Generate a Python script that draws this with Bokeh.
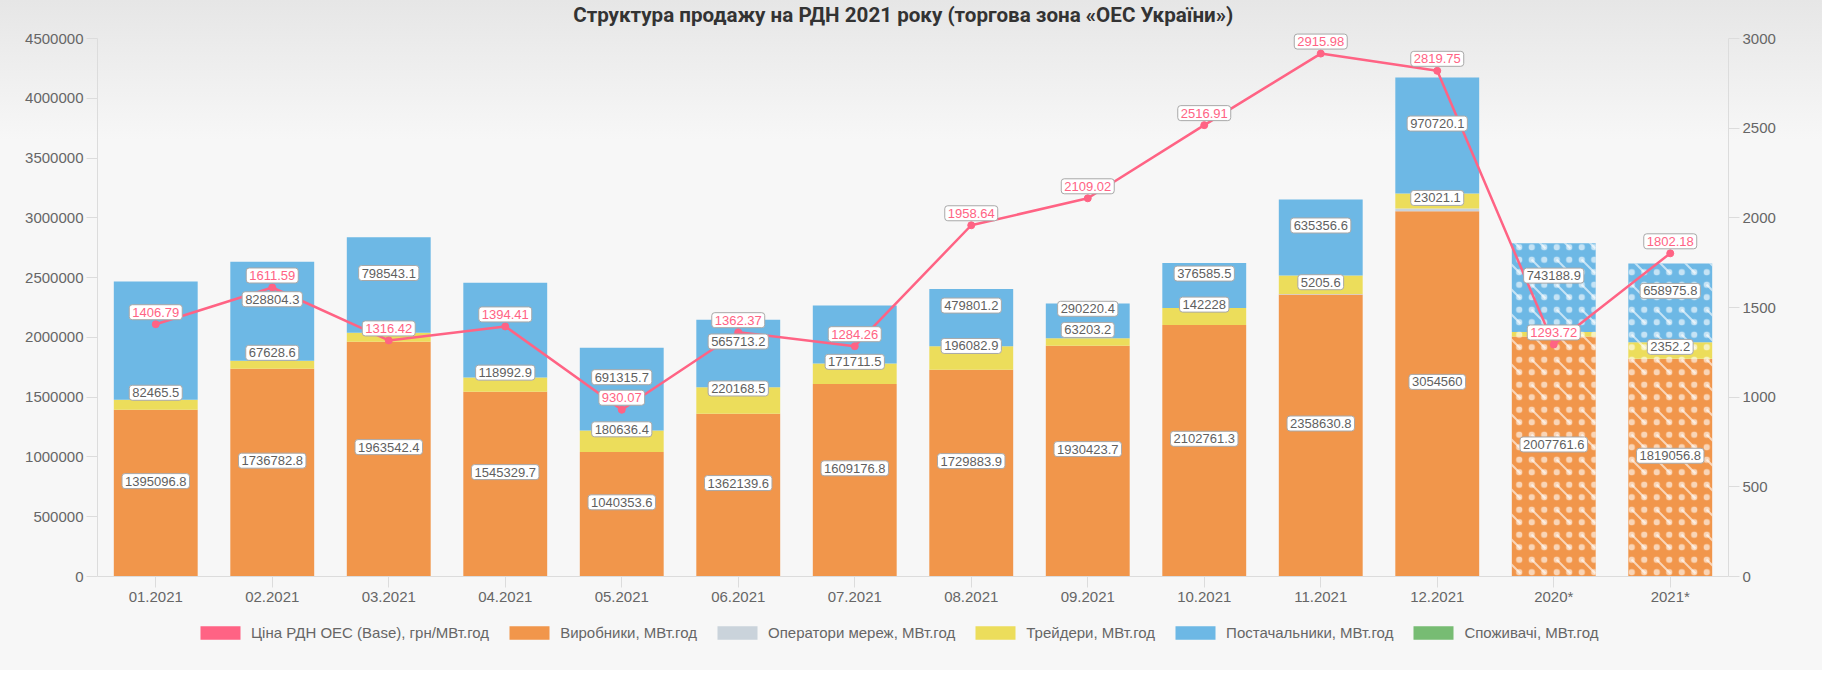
from bokeh.plotting import figure
from bokeh.layouts import column
from bokeh.models import (ColumnDataSource, FactorRange, Range1d, LinearAxis, Label,
                          SingleIntervalTicker, BasicTickFormatter, Legend, LegendItem)
from bokeh.core.properties import value, field
from bokeh.embed import file_html
from bokeh.resources import INLINE

# ---------------- data ----------------
categories = ["01.2021", "02.2021", "03.2021", "04.2021", "05.2021", "06.2021",
              "07.2021", "08.2021", "09.2021", "10.2021", "11.2021", "12.2021",
              "2020*", "2021*"]

price = [1406.79, 1611.59, 1316.42, 1394.41, 930.07, 1362.37, 1284.26,
         1958.64, 2109.02, 2516.91, 2915.98, 2819.75, 1293.72, 1802.18]

producers = [1395096.8, 1736782.8, 1963542.4, 1545329.7, 1040353.6, 1362139.6,
             1609176.8, 1729883.9, 1930423.7, 2102761.3, 2358630.8, 3054560,
             2007761.6, 1819056.8]
operators = [0, 0, 0, 0, 0, 0, 0, 0, 0, 0, 5205.6, 23021.1, 0, 2352.2]
traders = [82465.5, 67628.6, 75300, 118992.9, 180636.4, 220168.5, 171711.5,
           196082.9, 63203.2, 142228, 154000, 125300, 37000, 137600]
suppliers = [989800, 828804.3, 798543.1, 792200, 691315.7, 565713.2, 485700,
             479801.2, 290220.4, 376585.5, 635356.6, 970720.1, 743188.9, 658975.8]
consumers = [0] * 14

# which data labels are visible in the original (others hidden by overlap)
show_producers = [1] * 14
show_operators = [0, 0, 0, 0, 0, 0, 0, 0, 0, 0, 1, 1, 0, 1]
show_traders = [1, 1, 0, 1, 1, 1, 1, 1, 1, 1, 0, 0, 0, 0]
show_suppliers = [0, 1, 1, 0, 1, 1, 0, 1, 1, 1, 1, 1, 1, 1]
show_consumers = [0] * 14

is_forecast = [0] * 12 + [1, 1]

y_left_max, y_left_step = 4500000, 500000
y_right_max, y_right_step = 3000, 500

series_names = ["Виробники, МВт.год", "Оператори мереж, МВт.год",
                "Трейдери, МВт.год", "Постачальники, МВт.год", "Споживачі, МВт.год"]
price_name = "Ціна РДН ОЕС (Base), грн/МВт.год"
title_text = "Структура продажу на РДН 2021 року (торгова зона «ОЕС України»)"

# ---------------- style ----------------
C_PRICE = "#ff6384"
COLORS = ["#f1964b", "#cad3db", "#ecdd5b", "#6db8e5", "#77bc73"]
FONT = "Liberation Sans"
TXT = "#666666"
AXIS = "#dcdcdc"
W = 1822
AXIS_PX = 538          # pixel height of the 0..max axis span
HEADROOM_PX = 10       # free frame space above the top tick (room for labels)
head = 1 + HEADROOM_PX / AXIS_PX

stackers = ["producers", "operators", "traders", "suppliers", "consumers"]
src = ColumnDataSource(dict(
    cat=categories, price=price,
    producers=producers, operators=operators, traders=traders,
    suppliers=suppliers, consumers=consumers,
    hatch_dash=["left_diagonal_dash" if f else "blank" for f in is_forecast],
    hatch_dot=["dot" if f else "blank" for f in is_forecast],
))

# ---- title strip ----
t = figure(x_range=Range1d(0, 1), y_range=Range1d(0, 1), width=W, height=28,
           output_backend="svg", toolbar_location=None, min_border=0,
           x_axis_location=None, y_axis_location=None)
t.border_fill_color = None
t.background_fill_color = None
t.outline_line_color = None
t.grid.visible = False
t.add_layout(Label(x=0.494, y=0.5, text=title_text, text_align="center",
                   text_baseline="middle", text_font="Roboto",
                   text_font_size="20.6px", text_font_style="bold",
                   text_color="#333333"))

# ---- main chart ----
p = figure(x_range=FactorRange(factors=categories, range_padding=0),
           y_range=Range1d(0, y_left_max * head),
           width=W, height=582, output_backend="svg", toolbar_location=None,
           min_border_left=97, min_border_right=94, min_border_top=0,
           min_border_bottom=34)
p.extra_y_ranges = {"price": Range1d(0, y_right_max * head)}

p.border_fill_color = None
p.background_fill_color = None
p.outline_line_color = None
p.xgrid.visible = False
p.ygrid.visible = False

ya = p.yaxis[0]
ya.ticker = SingleIntervalTicker(interval=y_left_step)
ya.formatter = BasicTickFormatter(use_scientific=False)
ya.bounds = (0, y_left_max)
ra = LinearAxis(y_range_name="price", ticker=SingleIntervalTicker(interval=y_right_step),
                bounds=(0, y_right_max))
p.add_layout(ra, "right")
for ax in [ya, ra, p.xaxis[0]]:
    ax.axis_line_color = AXIS
    ax.major_tick_line_color = AXIS
    ax.minor_tick_line_color = None
    ax.major_tick_in = 0
    ax.major_tick_out = 11
    ax.major_label_text_font = FONT
    ax.major_label_text_font_size = "15px"
    ax.major_label_text_color = TXT
    ax.major_label_standoff = 3
p.xaxis[0].major_label_standoff = 0

# stacked bars (forecast columns get a white dash + dot texture)
bars = p.vbar_stack(stackers, x="cat", width=0.72, source=src,
                    fill_color=COLORS, line_color=None,
                    hatch_pattern=field("hatch_dash"), hatch_color="white",
                    hatch_alpha=0.6, hatch_scale=25, hatch_weight=2)
p.vbar_stack(stackers, x="cat", width=0.72, source=src,
             fill_alpha=0, line_color=None,
             hatch_pattern=field("hatch_dot"), hatch_color="white",
             hatch_alpha=0.6, hatch_scale=12.5, hatch_weight=1.5)

# price line
p.line(x="cat", y="price", source=src, y_range_name="price",
       line_color=C_PRICE, line_width=2.5)
p.scatter(x="cat", y="price", source=src, y_range_name="price",
          size=7, fill_color=C_PRICE, line_color=C_PRICE)

# data labels for stacks (anchored at segment centres, box drawn above)
def fmt(v):
    s = repr(float(v))
    return s[:-2] if s.endswith(".0") else s

lx, ly, lt = [], [], []
series_vals = [producers, operators, traders, suppliers, consumers]
series_show = [show_producers, show_operators, show_traders, show_suppliers, show_consumers]
bottom = [0.0] * len(categories)
for vals, show in zip(series_vals, series_show):
    for i, c in enumerate(categories):
        if show[i]:
            lx.append(c)
            ly.append(bottom[i] + vals[i] / 2.0)
            lt.append(fmt(vals[i]))
        bottom[i] += vals[i]

lsrc = ColumnDataSource(dict(x=lx, y=ly, text=lt))
box_kw = dict(text_align="center", text_baseline="middle", y_offset=-12,
              text_font=value(FONT), text_font_size="13px",
              background_fill_color="white", border_line_color="#a8a8a8",
              border_line_width=1, padding=3, border_radius=3)
p.text(x="x", y="y", text="text", source=lsrc, text_color="#5f5f5f", **box_kw)

psrc = ColumnDataSource(dict(x=categories, y=price, text=[fmt(v) for v in price]))
p.text(x="x", y="y", text="text", source=psrc, y_range_name="price",
       text_color=C_PRICE, **box_kw)

# ---- legend strip ----
q = figure(x_range=FactorRange(factors=categories), y_range=Range1d(0, 1),
           width=W, height=60, output_backend="svg", toolbar_location=None,
           min_border=0, x_axis_location=None, y_axis_location=None)
q.border_fill_color = None
q.background_fill_color = None
q.outline_line_color = None
q.grid.visible = False
key_cols = ["price"] + stackers
key_colors = [C_PRICE] + COLORS
key_names = [price_name] + series_names
items = []
for col, colr, name in zip(key_cols, key_colors, key_names):
    r = q.vbar(x="cat", top=col, width=0, source=src, fill_color=colr, line_color=None)
    items.append(LegendItem(label=name, renderers=[r]))
legend = Legend(items=items, orientation="horizontal", location=(98, 29),
                glyph_width=50, glyph_height=17, label_standoff=6, spacing=15,
                label_text_font=FONT, label_text_font_size="15px",
                label_text_color=TXT, border_line_color=None,
                background_fill_alpha=0, padding=0, margin=0)
q.add_layout(legend, "center")

layout = column(t, p, q, spacing=0,
                styles={"background": "linear-gradient(to bottom, #e6e6e6 0px, #f7f7f7 140px, #f7f7f7 100%)"})

open("out.html", "w").write(file_html(layout, INLINE))
